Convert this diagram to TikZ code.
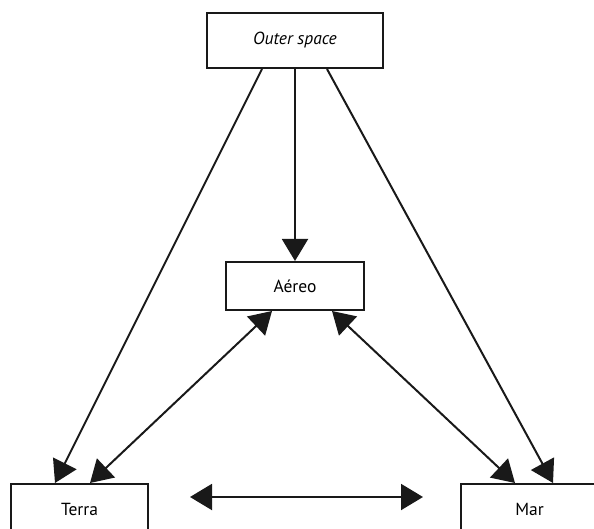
\documentclass[tikz,border=0pt]{standalone}
\usepackage{fontspec}
\setmainfont{PT Sans}
\usetikzlibrary{arrows.meta}
\begin{document}
\begin{tikzpicture}[x=1pt,y=-1pt,
  box/.style={draw=black!90, line width=2pt, fill=white, inner sep=0pt,
    font=\fontsize{17.5}{20}\selectfont},
  conn/.style={line width=2pt, draw=black!90,
    -{Triangle[length=22pt,width=26pt]}},
  biconn/.style={line width=2pt, draw=black!90,
    {Triangle[length=22pt,width=26pt]}-{Triangle[length=22pt,width=26pt]}}]
\useasboundingbox (0,0) rectangle (594,529);
\node[box, minimum width=176pt, minimum height=55pt] (os) at (295,40.5) {\itshape Outer space};
\node[box, minimum width=138pt, minimum height=48pt] (aereo) at (295,286) {Aéreo};
\node[box, minimum width=137pt, minimum height=50pt] (terra) at (79.5,509) {Terra};
\node[box, minimum width=137pt, minimum height=50pt] (mar) at (529.5,509) {Mar};
\coordinate (tl) at (190,497);
\coordinate (tr) at (423,497);
\draw[conn] ([xshift=-33pt]os.south) -- ([xshift=-24.5pt]terra.north);
\draw[conn] (os.south) -- (aereo.north);
\draw[conn] ([xshift=32pt]os.south) -- ([xshift=23.5pt]mar.north);
\draw[biconn] ([xshift=-23pt]aereo.south) -- ([xshift=10.5pt]terra.north);
\draw[biconn] ([xshift=37pt]aereo.south) -- ([xshift=-14.5pt]mar.north);
\draw[biconn] (tl) -- (tr);
\end{tikzpicture}
\end{document}
